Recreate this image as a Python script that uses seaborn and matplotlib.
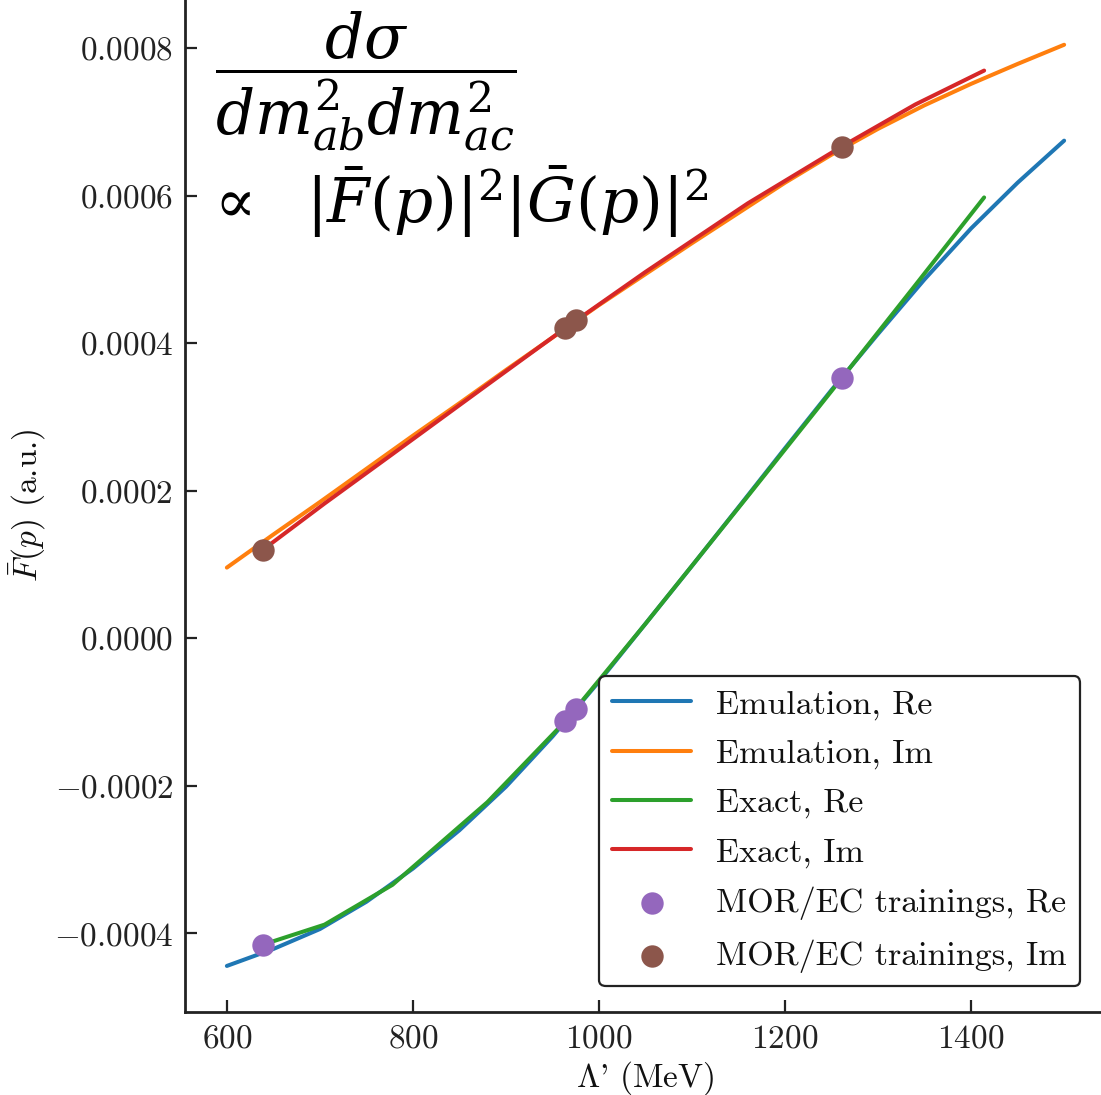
import matplotlib
matplotlib.use("Agg")
import matplotlib.pyplot as plt
from matplotlib.ticker import MultipleLocator
import seaborn as sns

# Emulator predictions on a 50 MeV grid of the cutoff
lam_emu = [600, 650, 700, 750, 800, 850, 900, 950, 1000, 1050,
           1100, 1150, 1200, 1250, 1300, 1350, 1400, 1450, 1500]
emu_re = [-0.000444, -0.000421, -0.000394, -0.000357, -0.000312, -0.000260,
          -0.000201, -0.000133, -0.0000585, 0.0000200, 0.0000985, 0.000178,
          0.000258, 0.000337, 0.000413, 0.000487, 0.000556, 0.000618, 0.000675]
emu_im = [0.0000961, 0.000141, 0.000185, 0.000230, 0.000275, 0.000319,
          0.000364, 0.000408, 0.000452, 0.000494, 0.000536, 0.000577,
          0.000618, 0.000656, 0.000691, 0.000723, 0.000752, 0.000779, 0.000805]

# Exact solutions at the computed cutoffs
lam_exact = [639, 705, 778, 880, 964, 1050, 1160, 1261, 1340, 1414]
exact_re = [-0.000415, -0.000388, -0.000334, -0.000222, -0.000112,
            0.000020, 0.000193, 0.000353, 0.000479, 0.000598]
exact_im = [0.0001205, 0.000183, 0.000250, 0.000344, 0.000421,
            0.000497, 0.000590, 0.000667, 0.000724, 0.000770]

# MOR/EC training points
lam_train = [639, 964, 975, 1261]
train_re = [-0.000415, -0.000112, -0.000096, 0.000353]
train_im = [0.0001205, 0.000421, 0.000432, 0.000667]

sns.set_style("ticks")
plt.rcParams.update({
    "font.family": ["cmr10", "DejaVu Serif"],
    "mathtext.fontset": "cm",
    "axes.formatter.use_mathtext": True,
    "axes.unicode_minus": True,
    "font.size": 24,
    "text.color": "#111111",
    "axes.labelcolor": "#111111",
    "xtick.color": "#222222",
    "ytick.color": "#222222",
    "axes.linewidth": 2.0,
    "axes.edgecolor": "#222222",
    "xtick.direction": "in",
    "ytick.direction": "in",
    "xtick.major.size": 8.5,
    "ytick.major.size": 8.5,
    "xtick.major.width": 1.6,
    "ytick.major.width": 1.6,
    "xtick.major.pad": 9,
    "ytick.major.pad": 8.5,
    "xtick.labelsize": 24,
    "ytick.labelsize": 24,
    "axes.labelsize": 24,
})

W, H = 1101, 1095
fig = plt.figure(figsize=(W / 100, H / 100), dpi=100)
ax = fig.add_axes([185 / W, 83 / H, (1106 - 185) / W, (1096.3 - 83) / H])

lw = 2.9
sns.lineplot(x=lam_emu, y=emu_re, color="#1f77b4", lw=lw, label="Emulation, Re", ax=ax)
sns.lineplot(x=lam_emu, y=emu_im, color="#ff7f0e", lw=lw, label="Emulation, Im", ax=ax)
sns.lineplot(x=lam_exact, y=exact_re, color="#2ca02c", lw=lw, label="Exact, Re", ax=ax)
sns.lineplot(x=lam_exact, y=exact_im, color="#d62728", lw=lw, label="Exact, Im", ax=ax)
sns.scatterplot(x=lam_train, y=train_re, color="#9467bd", s=260, linewidth=0,
                label="MOR/EC trainings, Re", ax=ax, zorder=5)
sns.scatterplot(x=lam_train, y=train_im, color="#8c564b", s=260, linewidth=0,
                label="MOR/EC trainings, Im", ax=ax, zorder=5)

ax.xaxis.set_major_locator(MultipleLocator(200))
ax.yaxis.set_major_locator(MultipleLocator(0.0002))
ax.set_xlabel("$\\Lambda$' (MeV)")
ax.set_ylabel(r"$\bar{F}(p)$ (a.u.)")

leg = ax.legend(loc="lower right", fontsize=24.5, frameon=True, fancybox=True,
                framealpha=1, edgecolor="#222222", borderaxespad=0.75,
                handlelength=2.3, labelspacing=0.56, handletextpad=0.75)
leg.get_frame().set_linewidth(1.6)

# Cross-section relation written in the upper left corner
fig.text(366 / W, 1 - 10 / H, r"$\dfrac{d\sigma}{dm_{ab}^{2}dm_{ac}^{2}}$",
         ha="center", va="top", fontsize=44, color="black",
         math_fontfamily="dejavuserif")
fig.text(203 / W, 1 - 240 / H,
         r"$\propto\ \ |\bar{F}(p)|^{2}|\bar{G}(p)|^{2}$",
         ha="left", va="bottom", fontsize=44, color="black",
         math_fontfamily="dejavuserif")

fig.savefig("out.png", dpi=100)
